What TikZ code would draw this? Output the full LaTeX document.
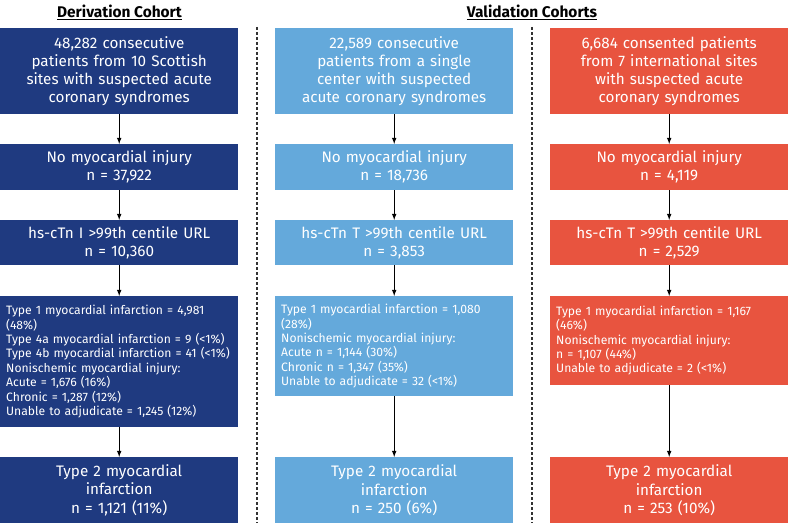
\documentclass[tikz,border=0pt]{standalone}
\usepackage{fontspec}
\setmainfont{Fira Sans}
\usetikzlibrary{arrows}
\definecolor{derivblue}{HTML}{1F3A80}
\definecolor{valblue}{HTML}{64A9DB}
\definecolor{valred}{HTML}{E8543F}

\begin{document}
\begin{tikzpicture}[x=1bp,y=-1bp,
    box/.style={text=white,inner sep=0pt,minimum width=238bp,text width=226bp,
        align=center,anchor=north west,font=\fontsize{15.3}{18.3}\selectfont},
    listbox/.style={box,align=left,font=\fontsize{12.2}{14.4}\selectfont},
    flow/.style={-latex,line width=1.1bp},
    divider/.style={dashed,line width=1.2bp,dash pattern=on 3bp off 2bp,black!80},
    heading/.style={font=\bfseries\fontsize{15.5}{18}\selectfont}]
    \useasboundingbox (0,0) rectangle (789,523);
    % headings
    \node[heading] (dtitle) at (119.5,12) {\underline{Derivation Cohort}};
    \node[heading] (vtitle) at (532,12) {\underline{Validation Cohorts}};
    \draw[divider] (257,27) -- (257,523);
    \draw[divider] (532,27) -- (532,523);
    % derivation cohort
    \node[box,fill=derivblue,minimum height=86bp] (d1) at (0,28)
        {48,282 consecutive\\patients from 10 Scottish\\sites with suspected acute\\coronary syndromes};
    \node[box,fill=derivblue,minimum height=46bp] (d2) at (0,144)
        {No myocardial injury\\n = 37,922};
    \node[box,fill=derivblue,minimum height=45bp] (d3) at (0,220)
        {hs-cTn I >99th centile URL\\n = 10,360};
    \node[listbox,fill=derivblue,minimum height=131bp] (d4) at (0,296)
        {Type 1 myocardial infarction = 4,981\\(48\%)\\Type 4a myocardial infarction = 9 (<1\%)\\Type 4b myocardial infarction = 41 (<1\%)\\Nonischemic myocardial injury:\\Acute = 1,676 (16\%)\\Chronic = 1,287 (12\%)\\Unable to adjudicate = 1,245 (12\%)};
    \node[box,fill=derivblue,minimum height=66bp] (d5) at (0,457)
        {Type 2 myocardial\\infarction\\n = 1,121 (11\%)};
    % single center cohort
    \node[box,fill=valblue,minimum height=86bp] (s1) at (275,28)
        {22,589 consecutive\\patients from a single\\center with suspected\\acute coronary syndromes};
    \node[box,fill=valblue,minimum height=46bp] (s2) at (275,144)
        {No myocardial injury\\n = 18,736};
    \node[box,fill=valblue,minimum height=45bp] (s3) at (275,220)
        {hs-cTn T >99th centile URL\\n = 3,853};
    \node[listbox,fill=valblue,minimum height=100bp] (s4) at (275,296)
        {Type 1 myocardial infarction = 1,080\\(28\%)\\Nonischemic myocardial injury:\\Acute n = 1,144 (30\%)\\Chronic n = 1,347 (35\%)\\Unable to adjudicate = 32 (<1\%)};
    \node[box,fill=valblue,minimum height=66bp] (s5) at (275,457)
        {Type 2 myocardial\\infarction\\n = 250 (6\%)};
    % international cohort
    \node[box,fill=valred,minimum height=86bp] (i1) at (550,28)
        {6,684 consented patients\\from 7 international sites\\with suspected acute\\coronary syndromes};
    \node[box,fill=valred,minimum height=46bp] (i2) at (550,144)
        {No myocardial injury\\n = 4,119};
    \node[box,fill=valred,minimum height=45bp] (i3) at (550,220)
        {hs-cTn T >99th centile URL\\n = 2,529};
    \node[listbox,fill=valred,minimum height=89bp] (i4) at (550,296)
        {Type 1 myocardial infarction = 1,167\\(46\%)\\Nonischemic myocardial injury:\\n = 1,107 (44\%)\\Unable to adjudicate = 2 (<1\%)};
    \node[box,fill=valred,minimum height=66bp] (i5) at (550,457)
        {Type 2 myocardial\\infarction\\n = 253 (10\%)};
    % arrows
    \foreach \c in {d,s,i}
        \foreach \a/\b in {1/2,2/3,3/4,4/5}
            \draw[flow] (\c\a) -- (\c\b);
\end{tikzpicture}
\end{document}
